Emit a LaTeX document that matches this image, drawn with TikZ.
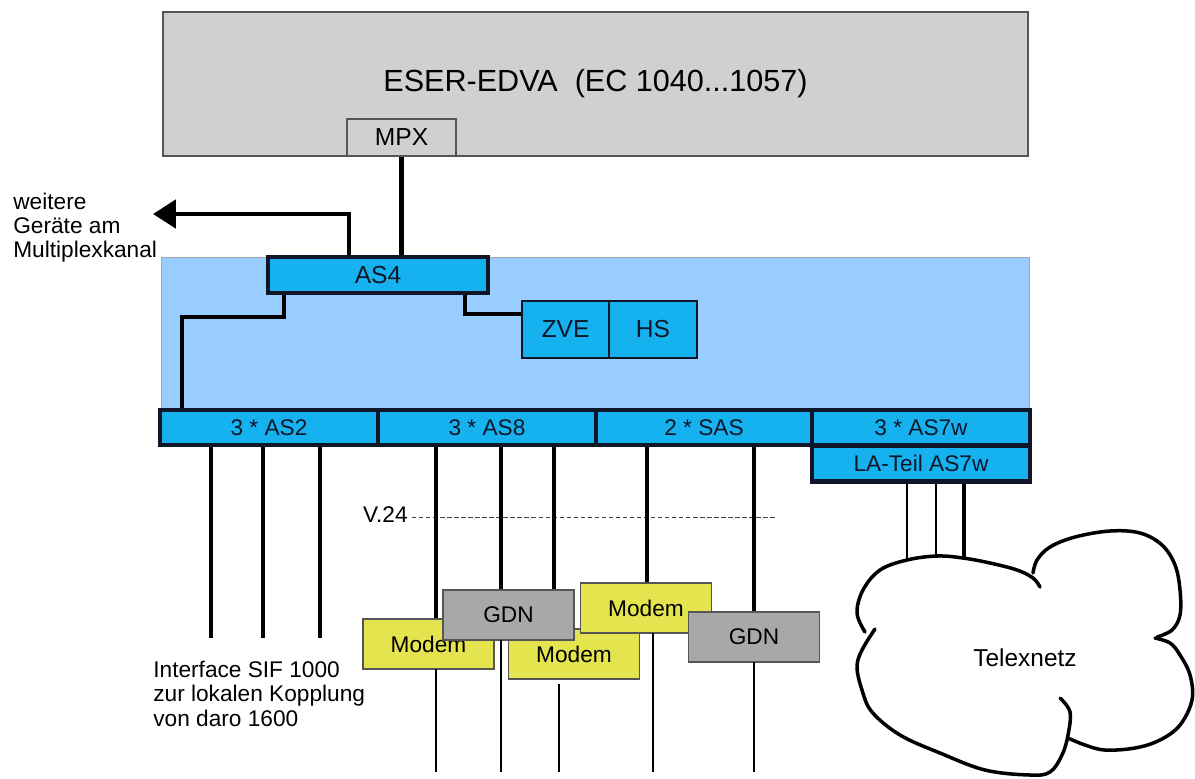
\documentclass[tikz,border=0pt]{standalone}
\usepackage{fontspec}
\setmainfont{Liberation Sans}
\usetikzlibrary{arrows.meta}
\definecolor{ink}{RGB}{15,22,40}
\definecolor{hostgrey}{RGB}{208,208,208}
\definecolor{edge}{RGB}{85,85,85}
\definecolor{panel}{RGB}{153,204,255}
\definecolor{unit}{RGB}{22,178,240}
\definecolor{modemY}{RGB}{228,228,78}
\definecolor{gdnG}{RGB}{168,168,168}
\tikzset{
  host/.style={draw=edge,fill=hostgrey,line width=0.7pt,inner sep=0pt},
  unitbox/.style={draw=ink,fill=unit,line width=2.3pt,inner sep=0pt,
    minimum height=0.7cm,font=\fontsize{12.9}{15}\selectfont,text=ink},
  thinunit/.style={draw=ink,fill=unit,line width=0.7pt,inner sep=0pt,
    minimum height=1.14cm,font=\fontsize{14}{16}\selectfont,text=ink},
  modem/.style={draw=edge,fill=modemY,line width=0.7pt,inner sep=0pt,
    minimum width=2.62cm,minimum height=1cm,font=\fontsize{12.9}{15}\selectfont},
  gdn/.style={modem,fill=gdnG},
  conn/.style={line width=2.4pt,draw=black},
  vline/.style={line width=1.9pt},
  lline/.style={line width=1.4pt},
  lbl/.style={inner sep=0pt,align=left,font=\fontsize{12.9}{13.6}\selectfont},
  cloudline/.style={line width=2pt,line cap=round,line join=round},
}

\begin{document}
\begin{tikzpicture}[x=0.02cm,y=-0.02cm]
\useasboundingbox (0,0) rectangle (1195,778);
% host computer with multiplex channel
\node[host,minimum width=17.3cm,minimum height=2.88cm,font=\fontsize{17.4}{20}\selectfont]
  (eser) at (595.5,84) {ESER-EDVA\ \ (EC 1040...1057)};
\node[host,minimum width=2.18cm,minimum height=0.74cm,font=\fontsize{14}{16}\selectfont]
  (mpx) at (401.5,137.5) {MPX};
% front end panel
\node[draw=gray!70,fill=panel,line width=0.5pt,minimum width=17.38cm,minimum height=3.06cm]
  (panel) at (595.5,333.5) {};
\node[unitbox,minimum width=4.4cm,minimum height=0.72cm,font=\fontsize{14}{16}\selectfont]
  (as4) at (378,275) {AS4};
\node[thinunit,minimum width=1.74cm] (zve) at (565.5,329.5) {ZVE};
\node[thinunit,minimum width=1.76cm] (hs) at (653,329.5) {HS};
% adapter row
\node[unitbox,minimum width=4.36cm] (as2) at (269,427.5) {3 * AS2};
\node[unitbox,minimum width=4.36cm] (as8) at (487,427.5) {3 * AS8};
\node[unitbox,minimum width=4.32cm] (sas) at (704,427.5) {2 * SAS};
\node[unitbox,minimum width=4.36cm] (as7w) at (921,427.5) {3 * AS7w};
\node[unitbox,minimum width=4.36cm,minimum height=0.72cm] (lateil) at (921,463.5) {LA-Teil AS7w};

% links inside
\draw[conn] (mpx.south) -- (as4.north -| mpx.south);
\coordinate (mpxout) at (153,214);
\draw[conn,-{Triangle[length=13pt,width=16pt]}] (as4.north -| 349,0) |- (mpxout);
\node[lbl,anchor=north west] (weiter) at (13,193) {weitere\\Geräte am\\Multiplexkanal};
\draw[conn] (as4.south -| 284,0) -- ++(0,22) -| (as2.north -| 182,0);
\draw[conn] (as4.south -| 465,0) |- (zve.west |- 0,314);

% V.24 interface line
\node[inner sep=0pt,anchor=east,font=\fontsize{12.9}{15}\selectfont] (v24) at (408,515) {V.24};
\coordinate (v24end) at (777,517);
\draw[draw=black!75,line width=0.5pt,dash pattern=on 2.5pt off 1.5pt] (v24.east) ++(4,2) -- (v24end);

% local lines of AS2
\foreach \x in {211,263,320}{
  \coordinate (sif\x) at (\x,638);
  \draw[vline] (as2.south -| \x,0) -- (sif\x);
}
\node[lbl,anchor=north west,font=\fontsize{12.9}{13.9}\selectfont] (sif) at (153,660.5)
  {Interface SIF 1000\\zur lokalen Kopplung\\von daro 1600};

% modems and GDN
\draw[conn] (as8.south -| 436,0) -- (436,619);
\draw[conn] (as8.south -| 501,0) -- (501,590);
\draw[vline] (as8.south -| 554,0) -- (554,590);
\draw[vline] (sas.south -| 647,0) -- (647,583);
\draw[conn] (sas.south -| 754,0) -- (754,612);
\node[modem] (modem1) at (428.5,644) {Modem};
\node[modem] (modem2) at (574,654) {Modem};
\node[gdn] (gdn1) at (508.5,615) {GDN};
\node[modem] (modem3) at (646,608) {Modem};
\node[gdn] (gdn2) at (754,637) {GDN};
\foreach \n/\x/\y in {modem1/436/669,gdn1/501/640,modem2/559/684,modem3/653/633,gdn2/754/662}{
  \coordinate (\n end) at (\x,772);
  \draw[lline] (\x,\y) -- (\n end);
}

% telex network
\coordinate (tx1) at (907,560);
\coordinate (tx2) at (936,556);
\coordinate (tx3) at (964,558);
\draw[lline] (lateil.south -| tx1) -- (tx1);
\draw[lline] (lateil.south -| tx2) -- (tx2);
\draw[vline] (lateil.south -| tx3) -- (tx3);
\draw[cloudline] plot[smooth,tension=0.6] coordinates {(1040,587) (1033,578) (1017,570)
  (990,563) (963,558) (937,556) (907,560) (880,570) (863,590) (857,613) (865,632)};
\draw[cloudline] plot[smooth,tension=0.6] coordinates {(875,629) (862,650) (857,667)
  (862,690) (872,712) (900,735) (940,753) (985,770) (1030,775) (1050,772) (1062,755)
  (1068,735) (1070,712) (1060,698)};
\draw[cloudline] plot[smooth,tension=0.6] coordinates {(1068,738) (1085,745) (1105,750)
  (1135,748) (1160,740) (1180,725) (1192,700) (1190,675) (1180,655) (1170,643) (1155,638)};
\draw[cloudline] plot[smooth,tension=0.6] coordinates {(1033,573) (1037,560) (1050,547)
  (1075,537) (1110,531) (1140,533) (1162,545) (1175,565) (1180,590) (1180,615)
  (1172,630) (1157,637)};
\node[font=\fontsize{13.9}{16}\selectfont] (telex) at (1025,658) {Telexnetz};
\end{tikzpicture}
\end{document}
